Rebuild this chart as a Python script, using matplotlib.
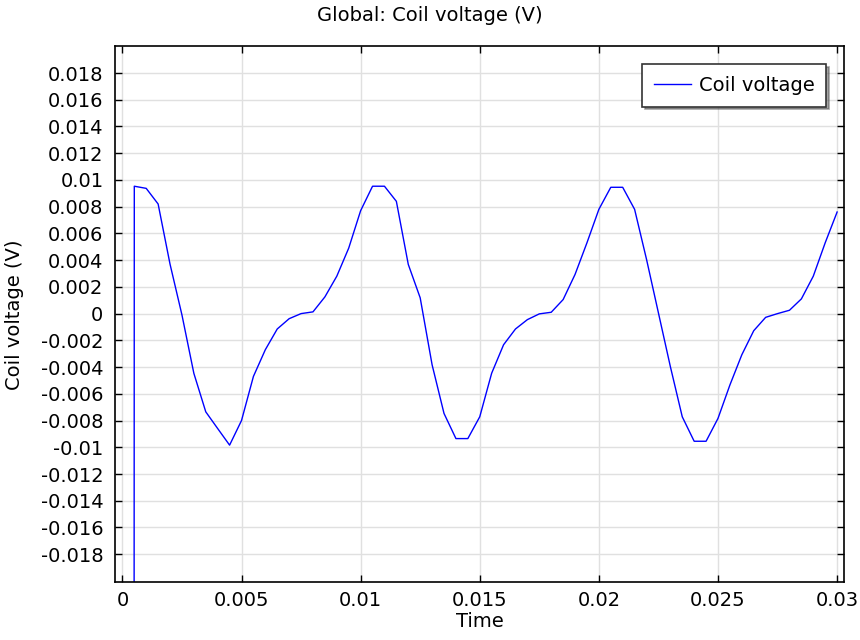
import matplotlib
matplotlib.use("Agg")
import matplotlib.pyplot as plt
from matplotlib.ticker import FuncFormatter

# time (s) and coil voltage (V)
# the t=0 value lies far below the axis (spike at start)
time = [0, 0.0005, 0.001, 0.0015, 0.002, 0.0025, 0.003, 0.0035, 0.004, 0.0045,
        0.005, 0.0055, 0.006, 0.0065, 0.007, 0.0075, 0.008, 0.0085, 0.009, 0.0095,
        0.01, 0.0105, 0.011, 0.0115, 0.012, 0.0125, 0.013, 0.0135, 0.014, 0.0145,
        0.015, 0.0155, 0.016, 0.0165, 0.017, 0.0175, 0.018, 0.0185, 0.019, 0.0195,
        0.02, 0.0205, 0.021, 0.0215, 0.022, 0.0225, 0.023, 0.0235, 0.024, 0.0245,
        0.025, 0.0255, 0.026, 0.0265, 0.027, 0.0275, 0.028, 0.0285, 0.029, 0.0295,
        0.03]
voltage = [-2.0, 0.00953, 0.00937, 0.0082, 0.0037, -0.0001, -0.00447, -0.00735, -0.0086, -0.00984,
           -0.0080, -0.0047, -0.0027, -0.00115, -0.00038, 0.0, 0.00013, 0.00125, 0.0028, 0.0049,
           0.0077, 0.00953, 0.00953, 0.0084, 0.00368, 0.00118, -0.00383, -0.00747, -0.00935, -0.00935,
           -0.00772, -0.00446, -0.00233, -0.00115, -0.00045, -0.00002, 0.0001, 0.00105, 0.00293, 0.0053,
           0.0078, 0.00945, 0.00945, 0.0078, 0.00406, 0.00005, -0.00396, -0.00772, -0.00955, -0.00955,
           -0.00784, -0.00534, -0.00308, -0.00128, -0.00028, 0.0, 0.00025, 0.0011, 0.0028, 0.0053,
           0.0076]

xticks = [0, 0.005, 0.01, 0.015, 0.02, 0.025, 0.03]
yticks = [-0.018, -0.016, -0.014, -0.012, -0.01, -0.008, -0.006, -0.004, -0.002, 0,
          0.002, 0.004, 0.006, 0.008, 0.01, 0.012, 0.014, 0.016, 0.018]

plt.rcParams['axes.unicode_minus'] = False
plt.rcParams['font.family'] = 'DejaVu Sans'

fig = plt.figure(figsize=(8.6, 6.4), dpi=100)
ax = fig.add_axes([0.134, 0.0902, 0.8477, 0.8375])

ax.plot(time, voltage, color='#0000ff', linewidth=1.0, label='Coil voltage')

ax.set_xlim(-0.0003, 0.0303)
ax.set_ylim(-0.0201, 0.0200)
ax.set_xticks(xticks)
ax.set_yticks(yticks)
fmt = FuncFormatter(lambda v, p: '0' if abs(v) < 1e-12 else ('%g' % round(v, 4)))
ax.xaxis.set_major_formatter(fmt)
ax.yaxis.set_major_formatter(fmt)

ax.tick_params(direction='in', length=5, width=1, labelsize=14, top=True, right=True)
ax.tick_params(axis='x', pad=6)
ax.tick_params(axis='y', pad=8.5)
ax.grid(True, color='#e0e0e0', linewidth=1)
ax.set_axisbelow(True)
for s in ax.spines.values():
    s.set_linewidth(1.2)

ax.set_xlabel('Time', fontsize=14, labelpad=1.5)
ax.set_ylabel('Coil voltage (V)', fontsize=14, labelpad=12)
fig.text(0.5, 0.976, 'Global: Coil voltage (V)', ha='center', va='center', fontsize=14)

leg = ax.legend(loc='upper right', fontsize=14, fancybox=False, shadow=True,
                framealpha=1, edgecolor='#333333', borderaxespad=0.93,
                handlelength=1.9, handletextpad=0.4, borderpad=0.6)
leg.get_frame().set_linewidth(1.2)

fig.savefig('out.png', dpi=100)
